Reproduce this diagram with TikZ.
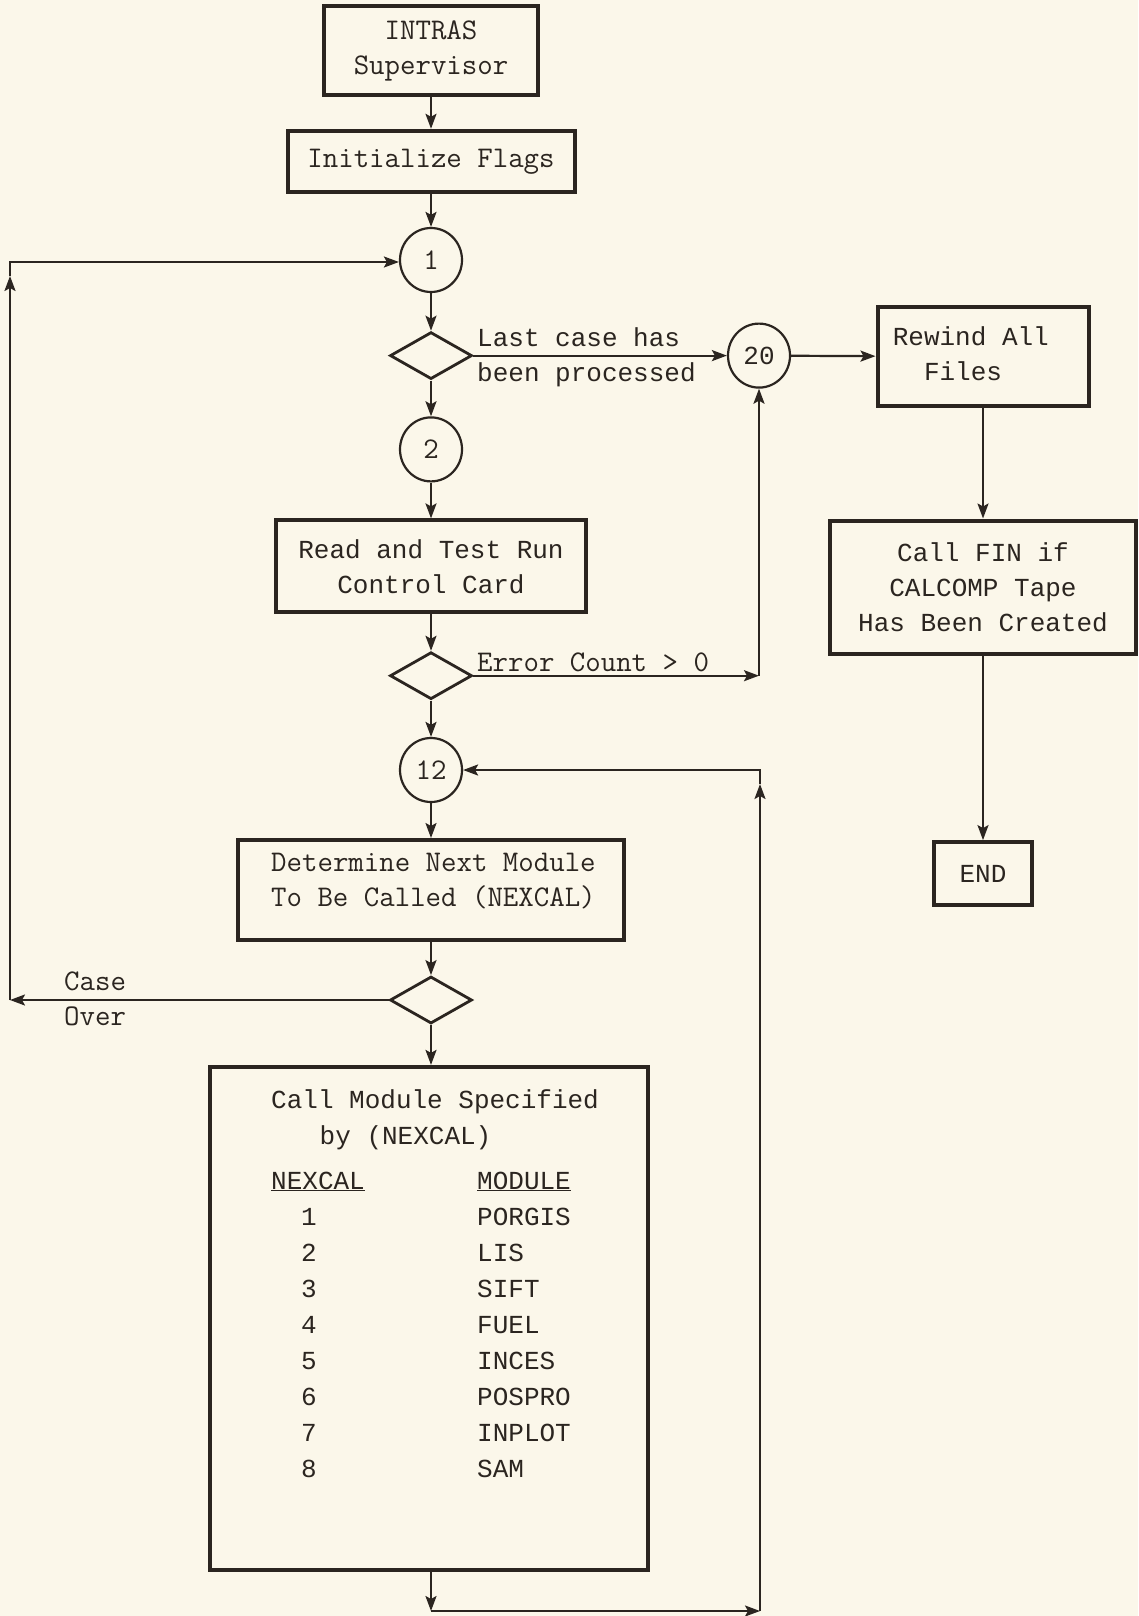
\documentclass[tikz,border=0pt]{standalone}
\usepackage{fontspec}
\newfontfamily\courfam{Liberation Mono}
\usetikzlibrary{shapes.geometric,arrows.meta}
\definecolor{paper}{HTML}{FBF7EA}
\definecolor{ink}{HTML}{2B2520}
\newcommand\fcour{\courfam\fontsize{26}{35}\selectfont}
\newcommand\flm{\ttfamily\fontsize{30}{35}\selectfont}
\begin{document}
\begin{tikzpicture}[x=1pt,y=-1pt,
  box/.style={draw=ink, line width=4pt, inner sep=0pt, text=ink, align=center},
  circ/.style={ellipse, draw=ink, line width=2.2pt, minimum width=62pt, minimum height=64pt, inner sep=0pt, text=ink},
  dia/.style={diamond, draw=ink, line width=2.8pt, minimum width=82pt, minimum height=47pt, inner sep=0pt},
  conn/.style={draw=ink, line width=2.2pt, -{Stealth[length=15pt,width=11pt,inset=3pt]}},
  textblock/.style={inner sep=0pt, text=ink, anchor=west},
  lbl/.style={textblock, text height=18pt, text depth=0pt}
]
\fill[paper] (0,0) rectangle (1138,1616);
\useasboundingbox (0,0) rectangle (1138,1616);

% main column
\node[box, font=\flm, minimum width=214pt, minimum height=89pt] (intras) at (431,50.5) {INTRAS\\Supervisor};
\node[box, font=\flm, minimum width=287pt, minimum height=61pt] (init) at (431,161.3) {Initialize Flags};
\node[circ, font=\flm] (c1) at (431,260) {1};
\node[dia] (d1) at (431,355.6) {};
\node[circ, font=\flm] (c2) at (431,449.4) {2};
\node[box, font=\fcour, minimum width=310pt, minimum height=92pt] (read) at (431,566.4) {Read and Test Run\\Control Card};
\node[dia] (d2) at (431,675.7) {};
\node[circ, font=\flm] (c12) at (431,770) {12};
\node[box, minimum width=386pt, minimum height=100pt] (det) at (431,890) {};
\node[dia] (d3) at (431,1000) {};
\node[box, minimum width=438pt, minimum height=503pt] (callmod) at (429,1318.4) {};

% right column
\node[circ, font=\fcour] (c20) at (759,355.6) {20};
\node[box, minimum width=211pt, minimum height=99pt] (rewind) at (983,356.7) {};
\node[box, font=\fcour, minimum width=306pt, minimum height=133pt] (fin) at (983,587) {Call FIN if\\CALCOMP Tape\\Has Been Created};
\node[box, font=\fcour, minimum width=98pt, minimum height=63pt] (end) at (983,873.6) {END};

% texts
\node[textblock, font=\fcour, align=left] (rwtxt) at (892.6,354) {Rewind All\\\phantom{Re}Files};
\node[textblock, font=\flm, align=left] (dettxt) at (271,881.5) {Determine Next Module\\To Be Called (NEXCAL)};
\node[lbl, font=\fcour] (lc1) at (477,337) {Last case has};
\node[lbl, font=\fcour] (lc2) at (477,372) {been processed};
\node[lbl, font=\flm] (err) at (477,662) {Error Count > 0};
\node[lbl, font=\flm] (case) at (64,981) {Case};
\node[lbl, font=\flm] (over) at (64,1016) {Over};

\node[lbl, font=\fcour] (cm1) at (271,1099) {Call Module Specified};
\node[lbl, font=\fcour] (cm2) at (319.5,1135) {by (NEXCAL)};
\node[lbl, font=\fcour] (hnex) at (271,1180) {\underline{NEXCAL}};
\node[lbl, font=\fcour] (hmod) at (477,1180) {\underline{MODULE}};
\foreach \n/\m [count=\i] in {1/PORGIS,2/LIS,3/SIFT,4/FUEL,5/INCES,6/POSPRO,7/INPLOT,8/SAM}{
  \node[lbl, font=\fcour, anchor=center] (num\i) at (309,1180+36*\i) {\n};
  \node[lbl, font=\fcour] (mod\i) at (477,1180+36*\i) {\m};
}

% coordinates
\coordinate (ecR) at (759,675.7);
\coordinate (loopBL) at (10,1000);
\coordinate (loopTL) at (10,262);
\coordinate (loopTLa) at (10,276);
\coordinate (botL) at (431,1611);
\coordinate (botR) at (760,1611);
\coordinate (rTop) at (760,770);
\coordinate (rTopa) at (760,784);

% connectors
\draw[conn] (intras) -- (init);
\draw[conn] (init) -- (c1);
\draw[conn] (c1) -- (d1);
\draw[conn] (d1) -- (c2);
\draw[conn] (c2) -- (read);
\draw[conn] (read) -- (d2);
\draw[conn] (d2) -- (c12);
\draw[conn] (c12) -- (det);
\draw[conn] (det) -- (d3);
\draw[conn] (d3) -- (callmod.north -| d3);

\draw[conn] (d1.east) -- (c20.west);
\draw[conn] (c20) -- (rewind);
\draw[conn] (rewind) -- (fin);
\draw[conn] (fin) -- (end);

\draw[conn] (d2.east) -- (ecR);
\draw[conn] (ecR) -- (c20.south);

\draw[conn] (d3.west) -- (loopBL);
\draw[conn] (loopBL) -- (loopTLa);
\draw[conn] (loopTLa) -- (loopTL) -- (c1.west |- loopTL);

\draw[conn] (callmod.south -| botL) -- (botL);
\draw[conn] (botL) -- (botR);
\draw[conn] (botR) -- (rTopa);
\draw[conn] (rTopa) -- (rTop) -- (c12.east);
\end{tikzpicture}
\end{document}
